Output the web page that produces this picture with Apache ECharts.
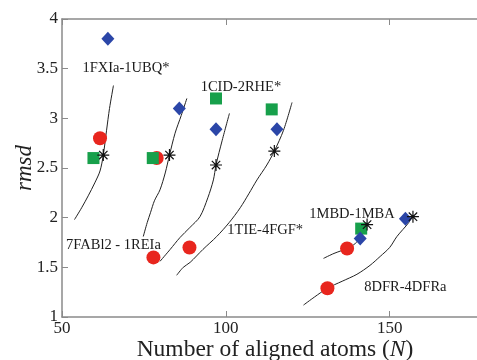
<!DOCTYPE html>
<html><head><meta charset="utf-8">
<script src="https://cdn.jsdelivr.net/npm/echarts@6/dist/echarts.min.js"></script>
<style>html,body{margin:0;padding:0;background:#fff}#c{width:477px;height:360px}</style>
</head><body><div id="c"></div>
<script>
// Tick settings
var xTicks = [50, 100, 150];
var yTicks = [1, 1.5, 2, 2.5, 3, 3.5, 4];

// Fitted curves (black lines) per structure pair
var curve1FXIa = [[53.8,1.98],[56,2.1],[58,2.22],[60,2.35],[61.6,2.47],[62.6,2.63],[63.6,2.88],[64.5,3.1],[65.7,3.33]];
var curve7FAB = [[74.8,1.81],[76,1.95],[77,2.05],[78.2,2.17],[79.9,2.28],[81.5,2.45],[82.8,2.63],[84.5,2.85],[86.4,3.03],[88.1,3.2]];
var curve1CID = [[79.9,1.56],[83,1.68],[86,1.8],[89,1.9],[92.1,2.01],[94.5,2.2],[96.2,2.38],[97,2.53],[98.9,2.78],[101.1,3.05]];
var curve1TIE = [[85,1.42],[87,1.5],[89.1,1.55],[93,1.68],[97.2,1.81],[101,1.95],[104.4,2.1],[107,2.24],[109.5,2.38],[112.5,2.53],[114.8,2.67],[117.6,2.88],[120.2,3.16]];
var curve1MBD = [[129.8,1.59],[133,1.64],[137,1.69],[139.5,1.74],[141,1.8],[143.1,1.93]];
var curve8DFR = [[123.7,1.12],[127,1.2],[131,1.29],[135.5,1.36],[140,1.43],[144,1.52],[147.1,1.61],[150,1.7],[152.2,1.81],[155.8,1.95],[157,2.02]];

// Marker series
var redCircles = [[61.6,2.80],[78.9,2.60],[77.9,1.60],[88.9,1.70],[137.0,1.69],[131.0,1.29]];
var greenSquares = [[59.6,2.60],[77.7,2.60],[97.0,3.20],[114.0,3.09],[141.3,1.89]];
var blueDiamonds = [[64.0,3.80],[85.8,3.10],[97.0,2.89],[115.6,2.89],[141.0,1.79],[154.8,1.99]];
var stars = [[62.6,2.63],[82.8,2.63],[97.0,2.53],[114.8,2.67],[143.1,1.93],[157.1,2.01]];

// Text labels (centre anchor)
var labelNames = ['1FXIa-1UBQ*','1CID-2RHE*','7FABl2 - 1REIa','1TIE-4FGF*','1MBD-1MBA','8DFR-4DFRa'];
var labelPos = [[69.5,3.50],[104.6,3.31],[65.7,1.72],[112.0,1.87],[138.5,2.04],[154.8,1.305]];

var serif = '"Liberation Serif", "DejaVu Serif", serif';
var axisCol = '#8a8a8a';

function lineSeries(d){
  return {type:'line', data:d, showSymbol:false, smooth:0.3, silent:true,
    lineStyle:{color:'#222', width:1}, z:1};
}

var chart = echarts.init(document.getElementById('c'), null, {renderer:'canvas'});
chart.setOption({
  animation:false,
  backgroundColor:'#fff',
  grid:{left:62, top:19, bottom:43, right:-11, containLabel:false, outerBoundsMode:'none'},
  xAxis:[{
    type:'value', min:50, max:180, interval:50,
    axisLine:{show:true, lineStyle:{color:axisCol, width:1.5}},
    axisTick:{show:true, inside:true, length:6, lineStyle:{color:axisCol}},
    splitLine:{show:false},
    axisLabel:{color:'#222', fontFamily:serif, fontSize:17, margin:3,
      formatter:function(v){return xTicks.indexOf(v)>=0 ? String(v) : '';}},
    name:'{a|Number of aligned atoms (}{b|N}{a|)}',
    nameLocation:'middle', nameGap:21, nameMoveOverlap:false,
    nameTextStyle:{rich:{a:{fontFamily:serif, fontSize:23.5, color:'#222'}, b:{fontFamily:serif, fontSize:23.5, fontStyle:'italic', color:'#222'}}}
  },{
    type:'value', position:'top', min:50, max:180, interval:50,
    axisLine:{show:true, lineStyle:{color:axisCol, width:1.5}},
    axisTick:{show:true, inside:true, length:6, lineStyle:{color:axisCol}},
    axisLabel:{show:false}, splitLine:{show:false}
  }],
  yAxis:{
    type:'value', min:1, max:4, interval:0.5,
    axisLine:{show:true, lineStyle:{color:axisCol, width:1.5}},
    axisTick:{show:true, inside:true, length:6, lineStyle:{color:axisCol}},
    splitLine:{show:false},
    axisLabel:{color:'#222', fontFamily:serif, fontSize:17, margin:4,
      formatter:function(v){return yTicks.indexOf(v)>=0 ? String(v) : '';}},
    name:'rmsd', nameLocation:'middle', nameGap:26, nameRotate:90, nameMoveOverlap:false,
    nameTextStyle:{fontFamily:serif, fontSize:23, fontStyle:'italic', color:'#222'}
  },
  series:[
    lineSeries(curve1FXIa), lineSeries(curve7FAB), lineSeries(curve1CID),
    lineSeries(curve1TIE), lineSeries(curve1MBD), lineSeries(curve8DFR),
    {type:'scatter', data:redCircles, symbol:'circle', symbolSize:14, itemStyle:{color:'#e8261e', opacity:1}, z:3},
    {type:'scatter', data:greenSquares, symbol:'rect', symbolSize:12, itemStyle:{color:'#17a04b', opacity:1}, z:4},
    {type:'scatter', data:blueDiamonds, symbol:'diamond', symbolSize:[13,14], itemStyle:{color:'#2b46a8', opacity:1}, z:5},
    {type:'scatter', data:stars, symbol:'path://M6,0L6,12M0,6L12,6M1.8,1.8L10.2,10.2M10.2,1.8L1.8,10.2', symbolSize:12,
      itemStyle:{color:'transparent', borderColor:'#111', borderWidth:1.2, opacity:1}, z:6},
    {type:'scatter', symbolSize:0, silent:true, z:7, itemStyle:{opacity:1},
      data: labelNames.map(function(n,i){return {name:n, value:labelPos[i]};}),
      label:{show:true, position:'inside', formatter:'{b}', fontFamily:serif, fontSize:14.5, color:'#1a1a1a', opacity:1}}
  ]
});
</script></body></html>
